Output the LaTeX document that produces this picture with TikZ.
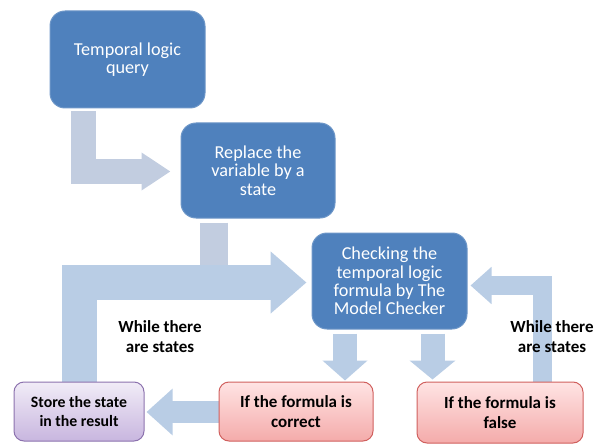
\documentclass[tikz,border=0pt]{standalone}
\usepackage{fontspec}
\setmainfont{Carlito}
\usepackage{tikz}
\usetikzlibrary{arrows.meta}
\definecolor{boxblue}{HTML}{4F81BD}
\definecolor{boxedge}{HTML}{6E97C8}
\definecolor{arrowblue}{HTML}{B9CDE5}
\definecolor{arrowgrey}{HTML}{C2CDE0}
\definecolor{redtop}{HTML}{FFE4E4}
\definecolor{redbot}{HTML}{F4ABAA}
\definecolor{rededge}{HTML}{D0605E}
\definecolor{purtop}{HTML}{F1ECF7}
\definecolor{purbot}{HTML}{C8B6DF}
\definecolor{puredge}{HTML}{8C72AE}
\pgfdeclarelayer{behind}
\pgfsetlayers{behind,main}

\begin{document}
\begin{tikzpicture}[x=1pt,y=1pt,
                bluebox/.style={fill=boxblue,draw=boxedge,line width=1pt,rounded corners=15pt,
                  text=white,align=center,font=\fontsize{18.2}{18.3}\selectfont},
                redbox/.style={top color=redtop,bottom color=redbot,draw=rededge,line width=1pt,
                  rounded corners=10pt,align=center,font=\fontsize{17}{20}\selectfont\bfseries},
                purbox/.style={top color=purtop,bottom color=purbot,draw=puredge,line width=1pt,
                  rounded corners=10pt,align=center,font=\fontsize{15.8}{19}\selectfont\bfseries},
                looplabel/.style={align=center,font=\fontsize{17}{20.5}\selectfont\bfseries},
                blockarrow/.style={draw=arrowblue,line cap=butt,line join=miter}]
                \tikzstyle{every node}+=[inner sep=0pt]
                \useasboundingbox (0,0) rectangle (601,-446);
                \node [bluebox,minimum width=155pt,minimum height=97pt] (query) at (127.5,-59.5) {Temporal logic\\query};
                \node [bluebox,minimum width=154pt,minimum height=95pt] (replace) at (258,-170.5) {Replace the\\variable by a\\state};
                \node [bluebox,minimum width=155pt,minimum height=96pt] (check) at (389.5,-281) {Checking the\\temporal logic\\formula by The\\Model Checker};
                \node [purbox,minimum width=130pt,minimum height=59pt] (store) at (79,-411.5) {Store the state\\in the result};
                \node [redbox,minimum width=154pt,minimum height=59pt] (correct) at (296,-411.5) {If the formula is\\correct};
                \node [redbox,minimum width=166pt,minimum height=61pt] (false) at (500,-412.5) {If the formula is\\false};
                \node [looplabel] (whileleft) at (160,-336.5) {While there\\are states};
                \node [looplabel] (whileright) at (552,-336.5) {While there\\are states};
                \begin{pgfonlayer}{behind}
                \draw [blockarrow,draw=arrowgrey,line width=25pt,-{Triangle[width=36pt,length=29pt]}]
                  ([xshift=-44.5pt,yshift=-3pt]query.south) |- ([xshift=-10pt,yshift=-1pt]replace.west);
                \draw [blockarrow,draw=arrowgrey,line width=28pt]
                  ([xshift=-44.5pt,yshift=-4pt]replace.south) -- +(0,-60);
                \draw [blockarrow,line width=35pt,-{Triangle[width=60pt,length=36pt]}]
                  (store.north) |- ([xshift=-5pt,yshift=-1.5pt]check.west);
                \draw [blockarrow,line width=24pt,-{Triangle[width=44pt,length=20pt]}]
                  ([xshift=-44.5pt,yshift=-4pt]check.south) -- ([xshift=49pt,yshift=1pt]correct.north);
                \draw [blockarrow,line width=24pt,-{Triangle[width=45pt,length=19pt]}]
                  ([xshift=43pt,yshift=-4pt]check.south) -- ([xshift=-67.5pt,yshift=2pt]false.north);
                \draw [blockarrow,line width=19pt,-{Triangle[width=36pt,length=21pt]}]
                  ([xshift=42.5pt]false.north) |- ([xshift=3pt,yshift=-4.5pt]check.east);
                \draw [blockarrow,line width=22pt,-{Triangle[width=45pt,length=26pt]}]
                  ([yshift=-0.5pt]correct.west) -- ([xshift=2pt,yshift=-0.5pt]store.east);
                \end{pgfonlayer}
              \end{tikzpicture}
\end{document}
